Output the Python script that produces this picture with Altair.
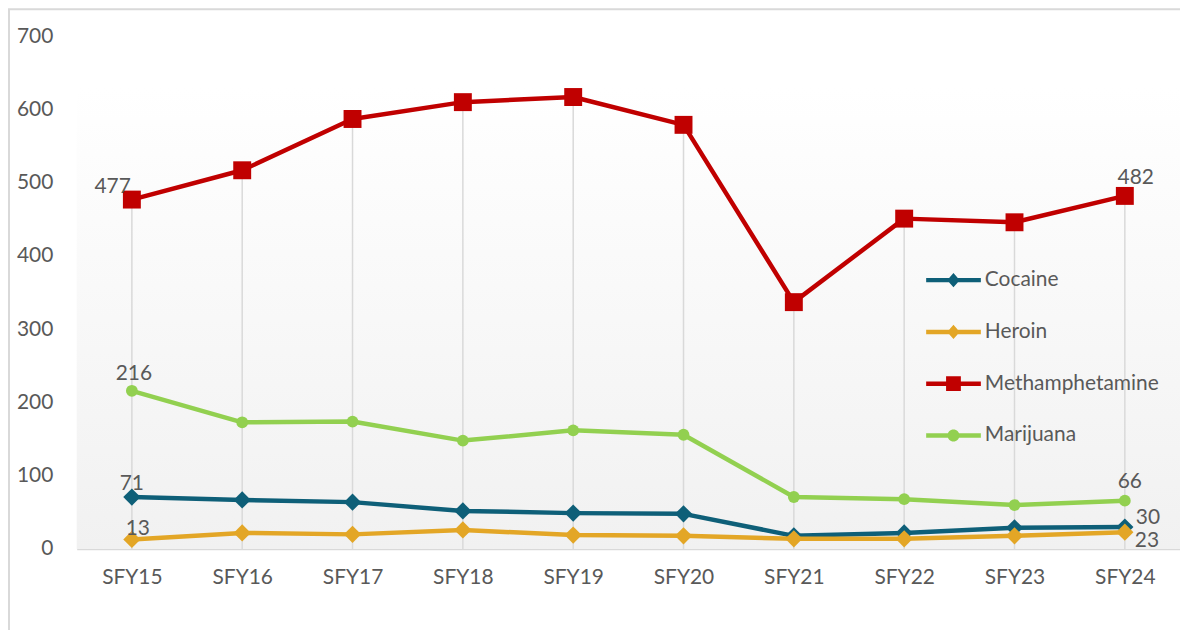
import altair as alt
import pandas as pd

categories = ["SFY15", "SFY16", "SFY17", "SFY18", "SFY19", "SFY20", "SFY21", "SFY22", "SFY23", "SFY24"]
series = ["Cocaine", "Heroin", "Methamphetamine", "Marijuana"]
cocaine = [71, 67, 64, 52, 49, 48, 18, 22, 29, 30]
heroin = [13, 22, 20, 26, 19, 18, 14, 14, 18, 23]
meth = [477, 517, 587, 610, 617, 579, 337, 451, 446, 482]
marijuana = [216, 173, 174, 148, 162, 156, 71, 68, 60, 66]
colors = ["#0E5F78", "#E3A626", "#C00000", "#92D050"]
y_ticks = [0, 100, 200, 300, 400, 500, 600, 700]

values = {"Cocaine": cocaine, "Heroin": heroin, "Methamphetamine": meth, "Marijuana": marijuana}
rows = []
for s in series:
    for c, v in zip(categories, values[s]):
        rows.append({"cat": c, "series": s, "value": v})
df = pd.DataFrame(rows)

W, H = 1108, 515
FONT = "Lato"
TXT = "#595959"
GRID = "#d9d9d9"
FS = 21

x_axis = alt.Axis(title=None, labelAngle=0, ticks=False, grid=False,
                  domainColor=GRID, domainWidth=1.5, labelPadding=18,
                  labelFont=FONT, labelFontSize=FS, labelColor=TXT)
y_axis = alt.Axis(title=None, values=y_ticks, ticks=False, grid=False, domain=False,
                  labelPadding=24, labelFont=FONT, labelFontSize=FS, labelColor=TXT)
x_scale = alt.Scale(type="point", domain=categories, padding=0.5)
y_scale = alt.Scale(domain=[0, 700], nice=False)

x_enc = alt.X("cat:N", sort=categories, scale=x_scale, axis=x_axis)
y_enc = alt.Y("value:Q", scale=y_scale, axis=y_axis)
color_scale = alt.Scale(domain=series, range=colors)

base = alt.Chart(df)

# background gradient
bg = alt.Chart(pd.DataFrame({"a": [0]})).mark_rect(
    color=alt.Gradient(gradient="linear", x1=0, y1=0, x2=0, y2=1,
                       stops=[alt.GradientStop(color="#ffffff", offset=0),
                              alt.GradientStop(color="#ffffff", offset=0.1),
                              alt.GradientStop(color="#f1f1f1", offset=1)])
).encode(x=alt.value(0), x2=alt.value(W), y=alt.value(0), y2=alt.value(H))

frame = alt.Chart(pd.DataFrame({"a": [0]})).mark_rect(
    filled=False, stroke=GRID, strokeWidth=2
).encode(x=alt.value(-68), x2=alt.value(W + 40), y=alt.value(-27), y2=alt.value(H + 200))

drops = base.transform_aggregate(maxv="max(value)", groupby=["cat"]).mark_rule(
    color=GRID, strokeWidth=1.5
).encode(x=x_enc, y=alt.Y("maxv:Q", scale=y_scale, axis=y_axis), y2=alt.datum(0))

shape_of = {"Cocaine": ("diamond", 300), "Heroin": ("diamond", 300),
            "Methamphetamine": ("square", 324), "Marijuana": ("circle", 140)}
series_layers = []
for s, col in zip(series, colors):
    sub = base.transform_filter(alt.datum.series == s)
    series_layers.append(
        sub.mark_line(strokeWidth=4.5, strokeJoin="round", color=col).encode(
            x=x_enc, y=y_enc, order=alt.Order("cat:N"))
    )
    shp, sz = shape_of[s]
    series_layers.append(
        sub.mark_point(shape=shp, size=sz, filled=True, opacity=1, color=col).encode(
            x=x_enc, y=y_enc)
    )

# legend symbols: line segment with marker
bar = "M-1,-0.08H1V0.08H-1Z"
diamond = bar + "M0,-0.26L0.23,0L0,0.26L-0.23,0Z"
square = bar + "M-0.27,-0.27H0.27V0.27H-0.27Z"
circle = bar + "M-0.22,0A0.22,0.22 0 1,1 0.22,0A0.22,0.22 0 1,1 -0.22,0Z"
paths = [diamond, diamond, square, circle]

leg = alt.Legend(title=None, orient="none", legendX=853, legendY=230, padding=0,
                 symbolSize=3025, symbolStrokeWidth=0, clipHeight=30, rowPadding=22,
                 labelOffset=4, labelLimit=400, labelFont=FONT, labelFontSize=FS,
                 labelColor=TXT)
legend_layer = base.transform_filter("false").mark_point(filled=True, opacity=1).encode(
    x=x_enc, y=y_enc,
    color=alt.Color("series:N", scale=color_scale, legend=leg),
    shape=alt.Shape("series:N", scale=alt.Scale(domain=series, range=paths), legend=leg))

label_specs = [
    ("Methamphetamine", "SFY15", "right", -1, -7),
    ("Methamphetamine", "SFY24", "center", 11, -12),
    ("Marijuana", "SFY15", "center", 2, -11),
    ("Marijuana", "SFY24", "center", 5, -13),
    ("Cocaine", "SFY15", "center", 0, -7),
    ("Heroin", "SFY15", "center", 6, -5),
    ("Cocaine", "SFY24", "left", 11, -3),
    ("Heroin", "SFY24", "left", 10, 15),
]
text_layers = []
for s, c, al, dx, dy in label_specs:
    text_layers.append(
        base.transform_filter((alt.datum.series == s) & (alt.datum.cat == c)).mark_text(
            align=al, baseline="alphabetic", dx=dx, dy=dy, font=FONT, fontSize=FS, color=TXT
        ).encode(x=x_enc, y=y_enc, text="value:Q")
    )

chart = alt.layer(bg, frame, drops, *series_layers, *text_layers, legend_layer).properties(
    width=W, height=H,
    autosize=alt.AutoSizeParams(type="none"),
    padding={"left": 69, "top": 27, "right": 0, "bottom": 80},
    background="#ffffff",
).configure_view(strokeWidth=0)

chart.save("out.html", embed_options={"renderer": "svg", "actions": False})
